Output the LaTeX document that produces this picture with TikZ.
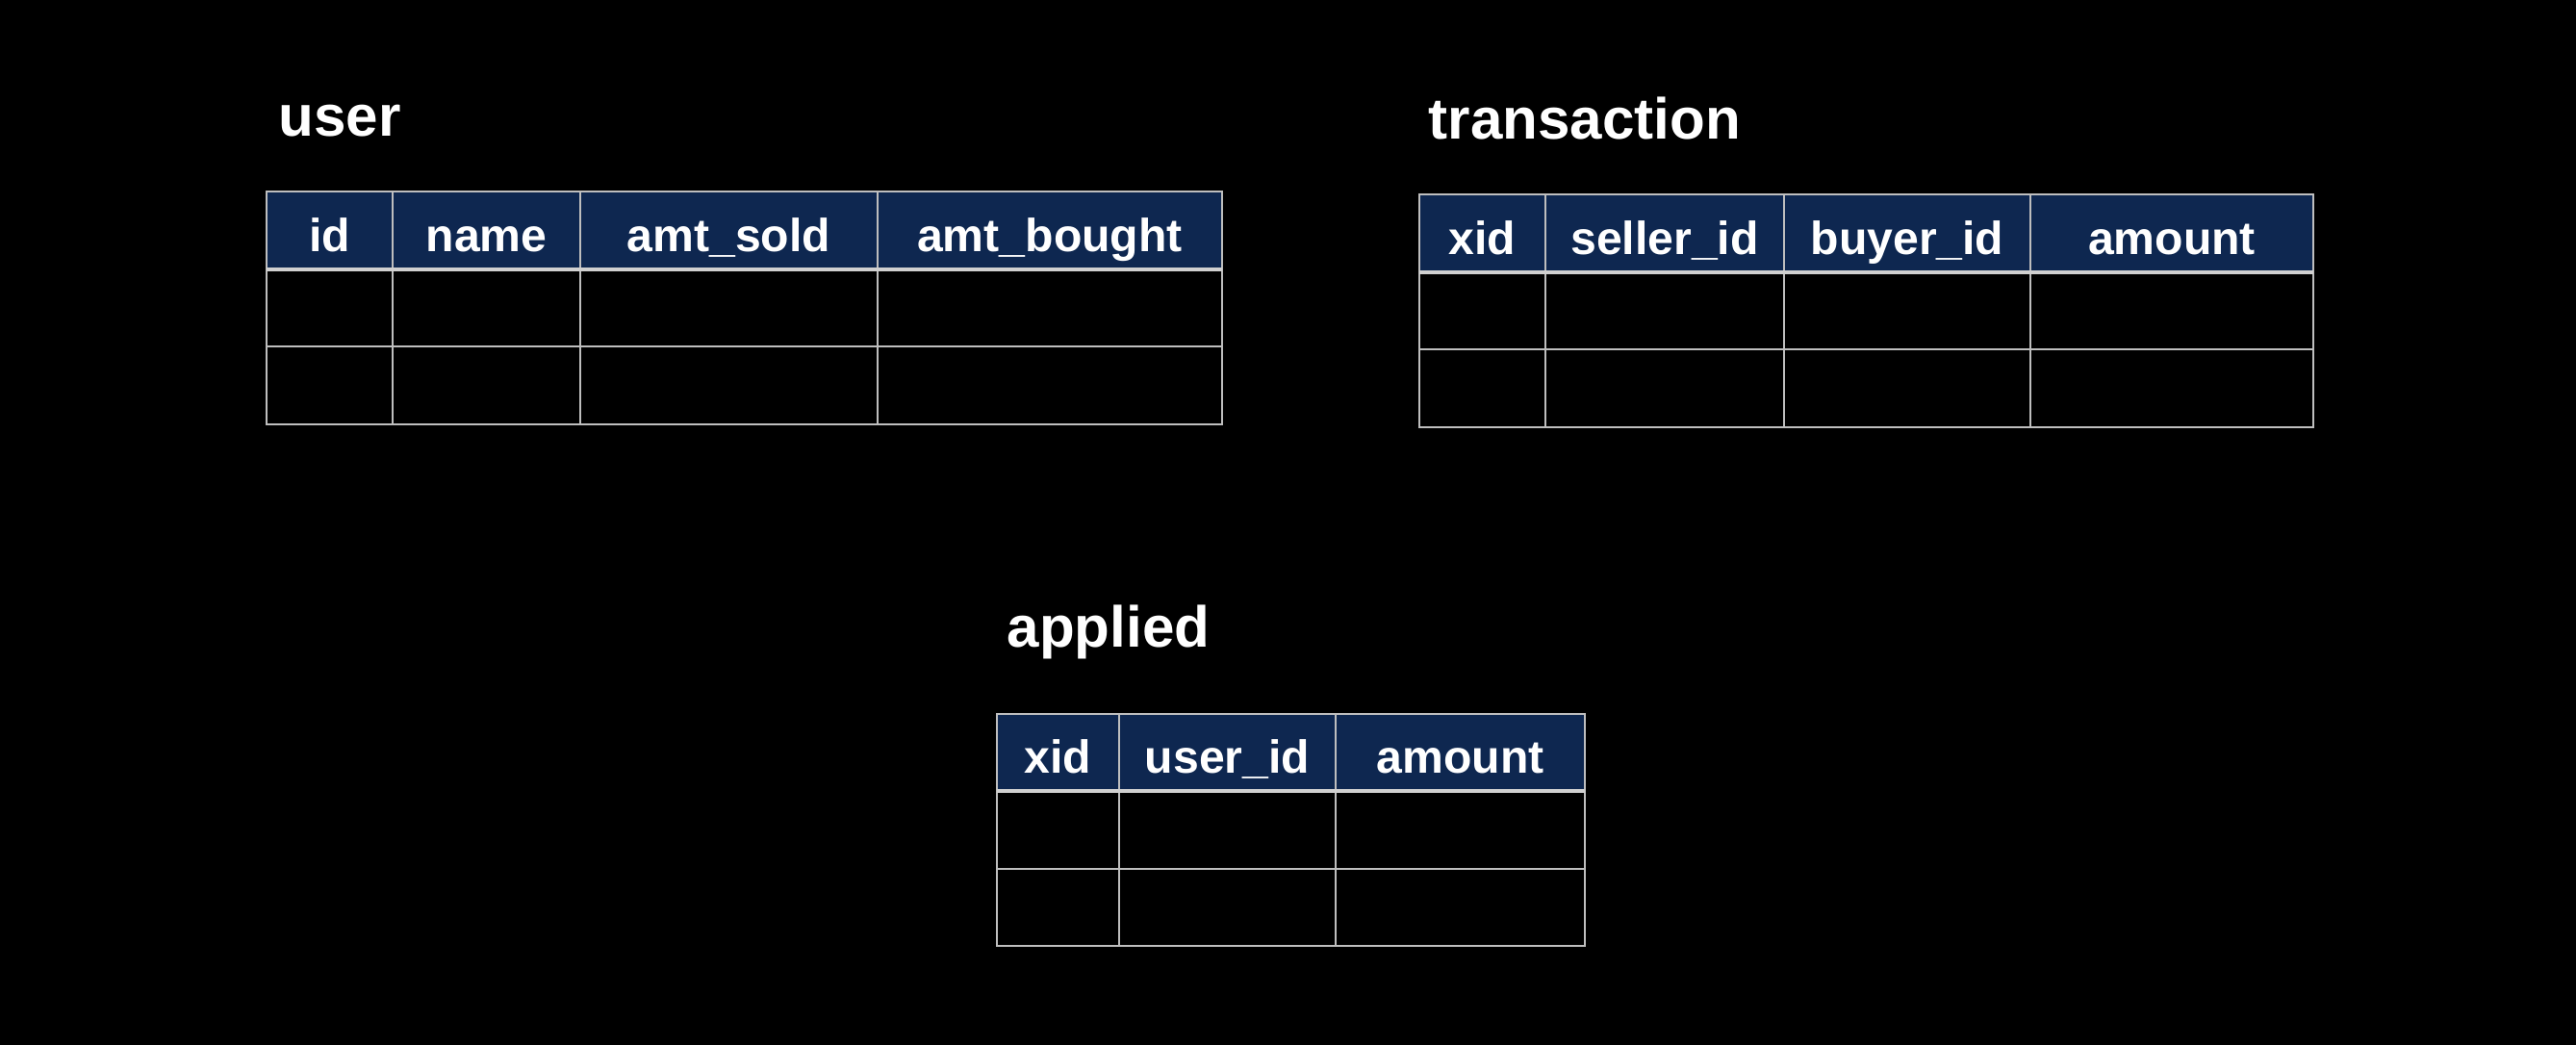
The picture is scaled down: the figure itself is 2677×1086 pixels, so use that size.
\documentclass[tikz,border=0pt]{standalone}
\usepackage{fontspec}
\setmainfont{Liberation Sans}
\definecolor{headblue}{RGB}{14,39,80}
\definecolor{gridgray}{RGB}{190,190,190}
\definecolor{sepgray}{RGB}{208,208,208}
\tikzset{
  head/.style={fill=headblue},
  grid/.style={draw=gridgray,line width=0.45pt},
  sep/.style={draw=sepgray,line width=1.2pt},
  headtext/.style={text=white,anchor=base,inner sep=0pt,font=\fontsize{13.7}{15}\selectfont\bfseries},
  tabletitle/.style={text=white,anchor=base west,inner sep=0pt,font=\fontsize{17.1}{20}\selectfont\bfseries}
}
\begin{document}
\begin{tikzpicture}[x=0.01cm,y=-0.01cm]
                \path[use as bounding box,fill=black] (0,0) rectangle (2677,1086);
                %user
                \node[tabletitle] (user) at (289,141.7) {user};
                \fill[head] (277,199) rectangle (1270,280);
                \foreach \xa/\xb/\txt [count=\i] in {277/408/id,408/603/name,603/912/amt\_sold,912/1270/amt\_bought}{
                    \node[headtext] (u\i) at ({(\xa+\xb)/2},262) {\txt};
                    \draw[grid] (\xa,199) rectangle (\xb,441);
                }
                \draw[grid] (277,360) -- (1270,360);
                \draw[sep] (277,280) -- (1270,280);
                %transaction
                \node[tabletitle] (transaction) at (1484,145) {transaction};
                \fill[head] (1475,202) rectangle (2404,283);
                \foreach \xa/\xb/\txt [count=\i] in {1475/1606/xid,1606/1854/seller\_id,1854/2110/buyer\_id,2110/2404/amount}{
                    \node[headtext] (t\i) at ({(\xa+\xb)/2},265) {\txt};
                    \draw[grid] (\xa,202) rectangle (\xb,444);
                }
                \draw[grid] (1475,363) -- (2404,363);
                \draw[sep] (1475,283) -- (2404,283);
                %applied
                \node[tabletitle] (applied) at (1046,673) {applied};
                \fill[head] (1036,742) rectangle (1647,822);
                \foreach \xa/\xb/\txt [count=\i] in {1036/1163/xid,1163/1388/user\_id,1388/1647/amount}{
                    \node[headtext] (a\i) at ({(\xa+\xb)/2},804) {\txt};
                    \draw[grid] (\xa,742) rectangle (\xb,983);
                }
                \draw[grid] (1036,903) -- (1647,903);
                \draw[sep] (1036,822) -- (1647,822);
\end{tikzpicture}
\end{document}
